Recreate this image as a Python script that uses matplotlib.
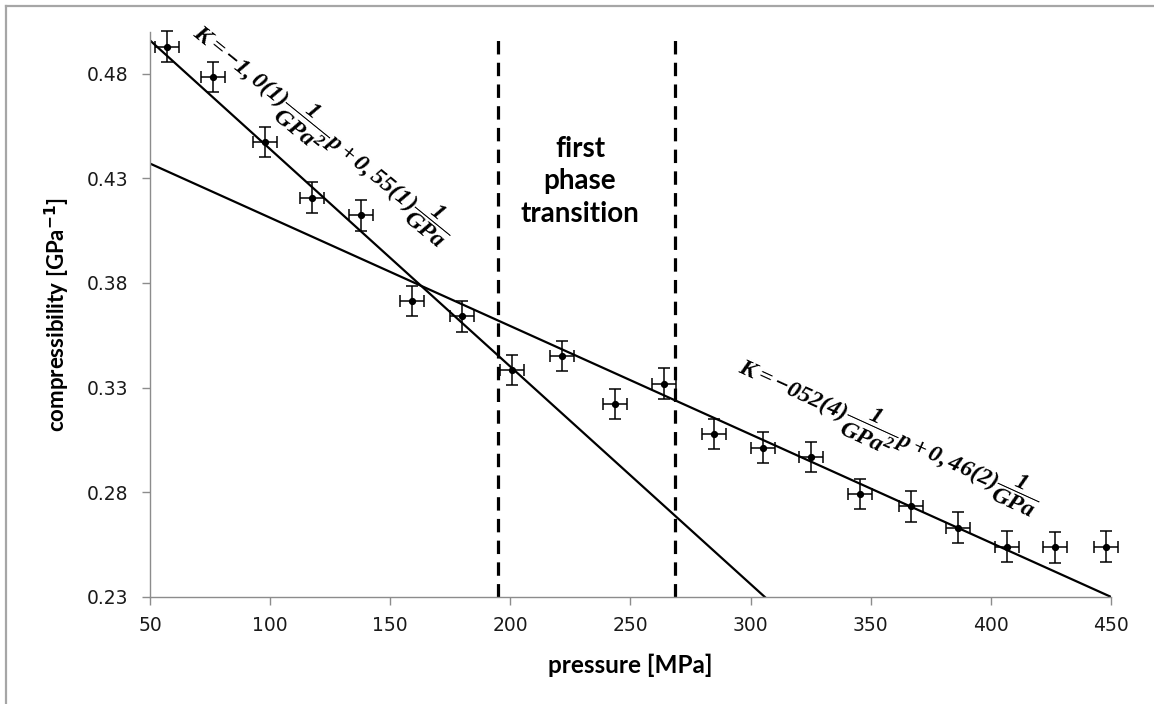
import numpy as np
import matplotlib
matplotlib.use("Agg")
import matplotlib.pyplot as plt
from matplotlib.lines import Line2D

# measured compressibility vs pressure
pressure = [56.9, 76.3, 97.9, 117.3, 137.7, 159.2, 180.0, 200.8, 221.3, 243.6,
            264.1, 284.7, 305.0, 325.0, 345.7, 366.6, 386.2, 406.6, 426.7, 447.8]
compress = [0.4930, 0.4784, 0.4473, 0.4208, 0.4123, 0.3713, 0.3641, 0.3385, 0.3451, 0.3221,
            0.3319, 0.3077, 0.3013, 0.2969, 0.2791, 0.2732, 0.2630, 0.2539, 0.2536, 0.2539]
p_err = 5.0
k_err = 0.0073

# linear fits K = a*p + b  (p in GPa)
fit_low = [-1.04, 0.548]
fit_high = [-0.518, 0.463]

# phase transition borders [MPa]
transition = [195.0, 268.5]

xticks = [50, 100, 150, 200, 250, 300, 350, 400, 450]
yticks = [0.23, 0.28, 0.33, 0.38, 0.43, 0.48]

plt.rcParams["mathtext.fontset"] = "custom"
plt.rcParams["mathtext.it"] = "Liberation Serif:style=italic:weight=bold"
plt.rcParams["mathtext.rm"] = "Liberation Serif:style=italic:weight=bold"
plt.rcParams["mathtext.bf"] = "Liberation Serif:style=italic:weight=bold"

fig = plt.figure(figsize=(11.54, 7.04), dpi=100)
ax = fig.add_axes([0.12998, 0.15241, 0.83276, 0.80213])

gray = "#8c8c8c"

pp = np.array([50.0, 450.0])
ax.plot(pp, fit_low[0] * pp / 1000 + fit_low[1], color="black", lw=1.6)
ax.plot(pp, fit_high[0] * pp / 1000 + fit_high[1], color="black", lw=1.6)

for xv in transition:
    ax.plot([xv, xv], [0.23, 0.496], color="black", lw=2.3, ls=(0, (4.2, 2.6)))

ax.errorbar(pressure, compress, xerr=p_err, yerr=k_err, fmt="o", ms=4.2,
            color="black", ecolor="black", elinewidth=1.1, capsize=4.5,
            capthick=1.1, clip_on=False, zorder=5)

ax.set_xlim(50, 450)
ax.set_ylim(0.23, 0.50)
ax.set_xticks(xticks)
ax.set_yticks(yticks)
ax.set_yticklabels([f"{v:.2f}" for v in yticks])
for s in ["top", "right"]:
    ax.spines[s].set_visible(False)
for s in ["left", "bottom"]:
    ax.spines[s].set_color(gray)
    ax.spines[s].set_linewidth(1.0)
ax.tick_params(axis="both", direction="out", length=5.8, width=1.0, color=gray,
               labelsize=13.5, labelcolor="#1a1a1a")
ax.tick_params(axis="y", pad=10)
ax.tick_params(axis="x", pad=8)

ax.set_xlabel("pressure [MPa]", fontsize=17.5, fontweight="bold", family="Lato")
ax.xaxis.set_label_coords(0.5, -0.121)
ax.xaxis.label.set_va("center")
ax.set_ylabel(r"compressibility [GPa$^{\mathbf{-1}}$]", fontsize=16,
              fontweight="bold", family="Lato", math_fontfamily="dejavusans")
ax.yaxis.set_label_coords(-0.096, 0.5)
ax.yaxis.label.set_va("center")

ax.text(229, 0.4286, "first\nphase\ntransition", ha="center", va="center",
        multialignment="center", fontsize=20, fontweight="bold", family="Lato",
        linespacing=1.32)

eq1 = r"$K=-1,0(1)\dfrac{1}{GPa^{2}}p+0,55(1)\dfrac{1}{GPa}$"
eq2 = r"$K=-052(4)\dfrac{1}{GPa^{2}}p+0,46(2)\dfrac{1}{GPa}$"
ax.text(121.6, 0.4515, eq1, ha="center", va="center", rotation=-39,
        rotation_mode="anchor", fontsize=17.5, math_fontfamily="custom")
ax.text(357.6, 0.3073, eq2, ha="center", va="center", rotation=-24.5,
        rotation_mode="anchor", fontsize=17.5, math_fontfamily="custom")

# chart area border
fig.add_artist(Line2D([6 / 1154, 6 / 1154], [0, 1 - 6 / 704], transform=fig.transFigure,
                      color="#a6a6a6", lw=1.6))
fig.add_artist(Line2D([6 / 1154, 1], [1 - 6 / 704, 1 - 6 / 704], transform=fig.transFigure,
                      color="#a6a6a6", lw=1.6))

fig.savefig("out.png", dpi=100)
